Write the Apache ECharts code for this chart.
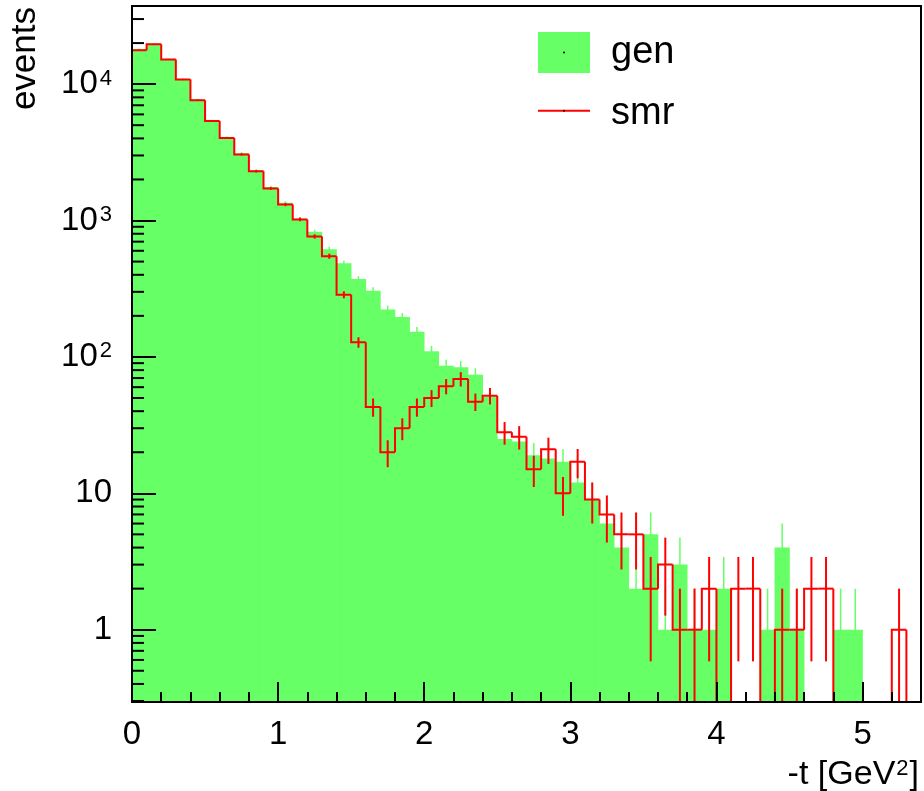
<!DOCTYPE html>
<html><head><meta charset="utf-8">
<script src="https://cdn.jsdelivr.net/npm/echarts@6/dist/echarts.min.js"></script>
<style>html,body{margin:0;padding:0;background:#fff}#c{width:924px;height:791px}</style>
</head><body><div id="c"></div>
<script>
// ---- data ----
const binWidth = 0.1;
const binStarts = [0,0.1,0.2,0.3,0.4,0.5,0.6,0.7,0.8,0.9,1.0,1.1,1.2,1.3,1.4,1.5,1.6,1.7,1.8,1.9,2.0,2.1,2.2,2.3,2.4,2.5,2.6,2.7,2.8,2.9,3.0,3.1,3.2,3.3,3.4,3.5,3.6,3.7,3.8,3.9,4.0,4.1,4.2,4.3,4.4,4.5,4.6,4.7,4.8,4.9,5.0,5.1,5.2,5.3];
const genCounts = [18100,19800,15300,10900,7700,5420,4070,3120,2330,1760,1349,1030,826,617,486,372,306,223,196,153,110,86,84,74,51,25,24,19,18,17,12,9,6,4,2,5,1,3,1,1,2,0,0,1,4,1,0,0,1,1,0,0,0,0];
const smrCounts = [17700,19600,15150,10800,7630,5370,4030,3050,2300,1720,1310,1019,764,548,286,128,43,20,30,43,50,61,69,47,52,28,26,15,21,10,17,9,7,5,5,2,3,1,1,2,0,2,2,0,1,1,2,2,0,0,0,0,1,0];
const xMajorTicks = [0,1,2,3,4,5];
const yMajorLabels = {'1':'1','10':'10','100':'10{sup|2}','1000':'10{sup|3}','10000':'10{sup|4}'};
const yMin = 0.295, yMax = 37400, xMin = 0, xMax = 5.4;
const yMinorTicks = [];
[0.1,1,10,100,1000,10000].forEach(d => { for (let k = 2; k <= 9; k++) { const v = d*k; if (v > yMin && v < yMax) yMinorTicks.push(v); } });

const GREEN = '#66ff66', RED = '#ff0000';
const FONT = 'Liberation Sans, Arial, Helvetica, sans-serif';

const genData = binStarts.map((lo, i) => [lo, lo + binWidth, genCounts[i]]);
const smrData = binStarts.map((lo, i) => [lo, lo + binWidth, smrCounts[i], i > 0 ? smrCounts[i-1] : 0]);

function clampY(v) { return v < yMin ? yMin : v; }

const chart = echarts.init(document.getElementById('c'), null, {renderer: 'canvas'});
chart.setOption({
  animation: false,
  backgroundColor: '#fff',
  grid: {left: 132, right: 3, top: 6, bottom: 89, show: true, borderColor: '#000', borderWidth: 2, backgroundColor: 'transparent', z: 20, containLabel: false},
  xAxis: [{
    type: 'value', min: xMin, max: xMax, interval: 1, z: 20,
    axisLine: {show: false},
    axisTick: {show: true, inside: true, length: 20, lineStyle: {color: '#000', width: 2}},
    splitLine: {show: false},
    axisLabel: {show: true, margin: 16, fontSize: 33, color: '#000', fontFamily: FONT,
      formatter: v => (xMajorTicks.indexOf(Math.round(v*1000)/1000) >= 0 ? String(Math.round(v)) : '')}
  }, {
    type: 'value', min: xMin, max: xMax, interval: 0.2, z: 20, position: 'bottom',
    axisLine: {show: false},
    axisTick: {show: true, inside: true, length: 10, lineStyle: {color: '#000', width: 2}},
    splitLine: {show: false},
    axisLabel: {show: false}
  }],
  yAxis: [{
    type: 'log', logBase: 10, min: yMin, max: yMax, z: 20,
    axisLine: {show: false},
    axisTick: {show: true, inside: true, length: 24, lineStyle: {color: '#000', width: 2}},
    splitLine: {show: false},
    minorTick: {show: false},
    axisLabel: {show: true, margin: 20, fontSize: 33, lineHeight: 33, color: '#000', fontFamily: FONT,
      formatter: v => { const e = Math.log10(v); const r = Math.round(e); if (Math.abs(e - r) > 1e-6) return ''; return yMajorLabels[String(Math.pow(10, r))] || ''; },
      rich: {sup: {fontSize: 22, lineHeight: 22, fontFamily: FONT, color: '#000', verticalAlign: 'top', padding: [0, 0, 0, 2]}}
    }
  }],
  series: [{
    name: 'gen', type: 'custom', clip: true, z: 2, silent: true,
    data: genData,
    encode: {x: [0, 1], y: 2},
    renderItem: (params, api) => {
      const lo = api.value(0), hi = api.value(1), v = api.value(2);
      if (!(v > 0)) return null;
      const pTop = api.coord([lo, v]);
      const pBot = api.coord([hi, yMin]);
      const e = Math.sqrt(v);
      const xc = api.coord([(lo + hi) / 2, v])[0];
      const eTop = api.coord([(lo + hi) / 2, v + e])[1];
      const eBot = api.coord([(lo + hi) / 2, clampY(v - e)])[1];
      return {type: 'group', children: [
        {type: 'rect', shape: {x: pTop[0] - 0.3, y: pTop[1], width: pBot[0] - pTop[0] + 0.6, height: pBot[1] - pTop[1] + 2}, style: {fill: GREEN}},
        {type: 'line', shape: {x1: xc, y1: eTop, x2: xc, y2: eBot}, style: {stroke: GREEN, lineWidth: 1.5}}
      ]};
    }
  }, {
    name: 'smr', type: 'custom', clip: true, z: 3, silent: true,
    data: smrData,
    encode: {x: [0, 1], y: 2},
    renderItem: (params, api) => {
      const lo = api.value(0), hi = api.value(1), v = api.value(2), prev = api.value(3);
      const yv = api.coord([lo, clampY(v)])[1];
      const yp = api.coord([lo, clampY(prev)])[1];
      const xl = api.coord([lo, clampY(v)])[0];
      const xh = api.coord([hi, clampY(v)])[0];
      const children = [{type: 'polyline', shape: {points: [[xl, yp], [xl, yv], [xh, yv]]}, style: {stroke: RED, lineWidth: 2, fill: null, lineJoin: 'miter'}}];
      if (v > 0) {
        const e = Math.sqrt(v);
        const xc = (xl + xh) / 2;
        const eTop = api.coord([lo, v + e])[1];
        const eBot = api.coord([lo, clampY(v - e)])[1];
        children.push({type: 'line', shape: {x1: xc, y1: eTop, x2: xc, y2: eBot}, style: {stroke: RED, lineWidth: 2}});
      }
      return {type: 'group', children};
    }
  }, {
    name: 'yMinorTicks', type: 'custom', clip: true, z: 21, silent: true,
    data: yMinorTicks.map(v => [xMin, v]),
    encode: {x: 0, y: 1},
    renderItem: (params, api) => {
      const p = api.coord([api.value(0), api.value(1)]);
      return {type: 'line', shape: {x1: p[0], y1: p[1], x2: p[0] + 12, y2: p[1]}, style: {stroke: '#000', lineWidth: 2}};
    }
  }],
  graphic: [
    {type: 'rect', left: 538, top: 32, shape: {width: 52, height: 41}, style: {fill: GREEN}, z: 30},
    {type: 'circle', x: 564, y: 52.5, shape: {r: 1}, style: {fill: '#000'}, z: 31},
    {type: 'line', shape: {x1: 538, y1: 110.7, x2: 590, y2: 110.7}, style: {stroke: RED, lineWidth: 2}, z: 30},
    {type: 'circle', x: 564, y: 110.7, shape: {r: 1}, style: {fill: '#000'}, z: 31},
    {type: 'text', x: 611, y: 53, style: {text: 'gen', fontSize: 38, fontFamily: FONT, fill: '#000', textAlign: 'left', textVerticalAlign: 'middle'}, z: 30},
    {type: 'text', x: 611, y: 114, style: {text: 'smr', fontSize: 38, fontFamily: FONT, fill: '#000', textAlign: 'left', textVerticalAlign: 'middle'}, z: 30},
    {type: 'text', x: 25, y: 7, rotation: Math.PI / 2, style: {text: 'events', fontSize: 35, fontFamily: FONT, fill: '#000', textAlign: 'right', textVerticalAlign: 'middle'}, z: 30},
    {type: 'text', x: 919, y: 775, style: {text: '-t [GeV{sup|2}]', fontSize: 34, lineHeight: 34, fontFamily: FONT, fill: '#000', textAlign: 'right', textVerticalAlign: 'middle',
      rich: {sup: {fontSize: 22, lineHeight: 22, fontFamily: FONT, fill: '#000', verticalAlign: 'top', padding: [0, 1, 0, 1]}}}, z: 30}
  ]
});
</script></body></html>
